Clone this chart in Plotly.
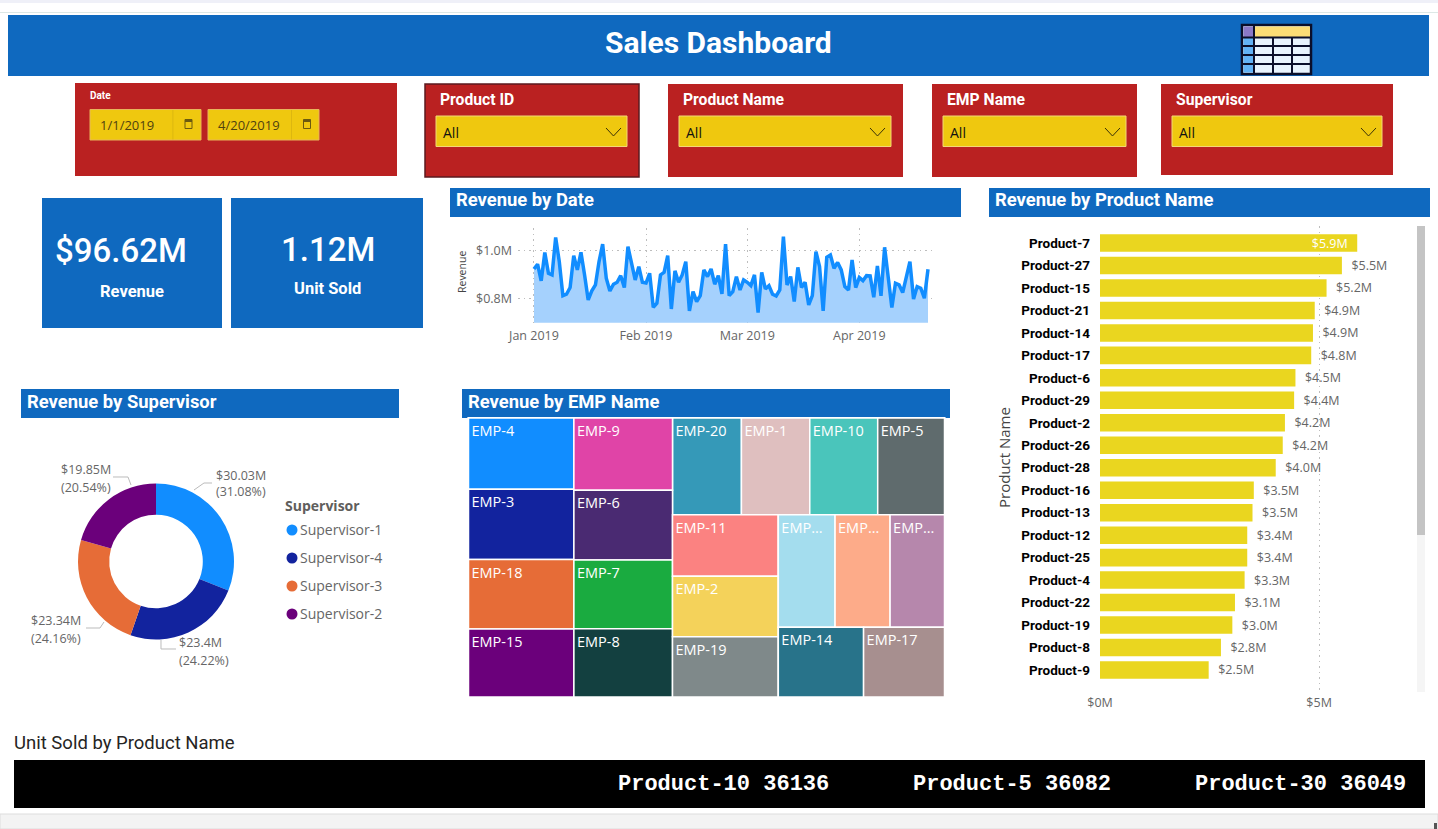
import pandas as pd
import plotly.graph_objects as go

W, H = 1438, 829

# ---- data -------------------------------------------------------------
TOTAL_REVENUE = 96.62
UNITS_SOLD = 1.12

DAILY_REVENUE = [
    0.923, 0.943, 0.873, 0.992, 0.905, 0.898, 1.055, 0.954, 0.811, 0.817,
    0.845, 0.979, 0.919, 0.993, 0.898, 0.793, 0.831, 0.856, 0.954, 1.027,
    0.884, 0.831, 0.859, 0.867, 0.895, 0.845, 1.017, 0.940, 0.877, 0.933,
    0.867, 0.864, 0.905, 0.762, 0.779, 0.898, 0.909, 0.979, 0.755, 0.915,
    0.867, 0.898, 0.954, 0.747, 0.828, 0.786, 0.811, 0.919, 0.891, 0.923,
    0.859, 0.895, 0.818, 1.027, 0.811, 0.828, 0.891, 0.835, 0.877, 0.867,
    0.853, 0.898, 0.740, 0.909, 0.839, 0.853, 0.817, 0.810, 0.835, 1.059,
    0.856, 0.891, 0.786, 0.930, 0.845, 0.867, 0.772, 0.811, 0.996, 0.933,
    0.747, 0.972, 0.982, 0.926, 0.950, 0.919, 0.849, 0.835, 0.961, 0.845,
    0.887, 0.874, 0.895, 0.894, 0.804, 0.936, 0.810, 1.014, 0.898, 0.761,
    0.863, 0.856, 0.824, 0.898, 0.954, 0.797, 0.849, 0.842, 0.800, 0.922,
]
DATES = pd.date_range("2019-01-01", periods=len(DAILY_REVENUE), freq="D")
MONTH_TICKS = ["2019-01-01", "2019-02-01", "2019-03-01", "2019-04-01"]
REVENUE_TICKS = [0.8, 1.0]

PRODUCTS = ["Product-7", "Product-27", "Product-15", "Product-21", "Product-14",
            "Product-17", "Product-6", "Product-29", "Product-2", "Product-26",
            "Product-28", "Product-16", "Product-13", "Product-12", "Product-25",
            "Product-4", "Product-22", "Product-19", "Product-8", "Product-9"]
PRODUCT_REVENUE = [5.87, 5.52, 5.17, 4.90, 4.86, 4.82, 4.46, 4.43, 4.22, 4.17,
                   4.01, 3.51, 3.48, 3.36, 3.36, 3.30, 3.08, 3.02, 2.76, 2.48]
PRODUCT_TICKS = [0, 5]

SUPERVISORS = ["Supervisor-1", "Supervisor-4", "Supervisor-3", "Supervisor-2"]
SUPERVISOR_REVENUE = [30.03, 23.4, 23.34, 19.85]
SUPERVISOR_SHARE = [31.08, 24.22, 24.16, 20.54]
SUPERVISOR_COLORS = ["#118DFF", "#12239E", "#E66C37", "#6B007B"]

# Employee cells are grouped into nested blocks so the tiling alternates
# between rows and columns.
EMP_IDS = ["EMP-4", "EMP-3", "EMP-18", "EMP-15", "EMP-9", "EMP-6", "EMP-7", "EMP-8",
           "EMP-20", "EMP-1", "EMP-10", "EMP-5", "EMP-11", "EMP-2", "EMP-19",
           "EMP-12", "EMP-13", "EMP-16", "EMP-14", "EMP-17"]
EMP_LABELS = ["EMP-4", "EMP-3", "EMP-18", "EMP-15", "EMP-9", "EMP-6", "EMP-7", "EMP-8",
              "EMP-20", "EMP-1", "EMP-10", "EMP-5", "EMP-11", "EMP-2", "EMP-19",
              "EMP...", "EMP...", "EMP...", "EMP-14", "EMP-17"]
EMP_REVENUE = [5.47, 5.38, 5.33, 5.21, 5.19, 5.00, 4.92, 4.90,
               4.85, 4.81, 4.78, 4.70, 4.73, 4.67, 4.63,
               4.64, 4.50, 4.45, 4.33, 4.11]
EMP_BLOCK = ["c1", "c1", "c1", "c1", "c2", "c2", "c2", "c2",
             "top", "top", "top", "top", "mid", "mid", "mid",
             "r1", "r1", "r1", "r2", "r2"]
EMP_COLORS = ["#118DFF", "#12239E", "#E66C37", "#6B007B", "#E044A7", "#4A2A72",
              "#1AAB40", "#134040", "#3599B8", "#DFBFBF", "#4AC5BB", "#5F6B6D",
              "#FB8281", "#F4D25A", "#7F898A", "#A4DDEE", "#FDAB89", "#B687AC",
              "#28738A", "#A78F8F"]
BLOCK_IDS = ["root", "left", "leftcols", "right", "c1", "c2", "top", "bottom", "mid", "rest", "r1", "r2"]
BLOCK_PARENTS = ["", "root", "left", "root", "leftcols", "leftcols", "right", "right", "bottom", "bottom", "rest", "rest"]

TICKER_PRODUCTS = ["Product-10", "Product-5", "Product-30"]
TICKER_UNITS = [36136, 36082, 36049]

FILTER_TITLES = ["Product ID", "Product Name", "EMP Name", "Supervisor"]
FILTER_VALUE = "All"
DATE_RANGE = ["1/1/2019", "4/20/2019"]

# ---- palette ----------------------------------------------------------
BLUE = "#0F69BF"
RED = "#BA2121"
YELLOW = "#EFC80F"
BAR_YELLOW = "#EAD61F"
GREY = "#666666"
GRID = "#BDBDBD"
GRID_DASH = "1.5px,4px"
TITLE_FONT = "Roboto"
BODY_FONT = "Open Sans"
NBSP = "\u00a0"


def px(x):
    return x / W


def py(y):
    return 1 - y / H


shapes, notes = [], []


def rect(x0, y0, x1, y1, fill, line=None, lw=1):
    shapes.append(dict(type="rect", xref="paper", yref="paper",
                       x0=px(x0), x1=px(x1), y0=py(y0), y1=py(y1), fillcolor=fill,
                       line=dict(color=line or fill, width=lw if line else 0),
                       layer="below"))


def polyline(points, color, width=1):
    d = "M" + " L".join(f"{px(x):.5f},{py(y):.5f}" for x, y in points)
    shapes.append(dict(type="path", xref="paper", yref="paper", path=d,
                       line=dict(color=color, width=width), layer="above"))


def label(x, y, text, size=13, color="#FFFFFF", anchor="left", weight=400, family=BODY_FONT, angle=0):
    notes.append(dict(xref="paper", yref="paper", x=px(x), y=py(y), text=text,
                      showarrow=False, xanchor=anchor, yanchor="middle", textangle=angle,
                      borderpad=0, borderwidth=0, align=anchor if anchor != "center" else "center",
                      font=dict(size=size, color=color, family=family, weight=weight)))


def chevron(x0, x1, y0, y1):
    polyline([(x0, y0), ((x0 + x1) / 2, y1), (x1, y0)], "#3A3208", 1)


def calendar(cx, cy):
    rect(cx - 3.5, cy - 4.5, cx + 3.5, cy + 4.5, "rgba(0,0,0,0)", "#6B5A10", 1)
    rect(cx - 3.5, cy - 4.5, cx + 3.5, cy - 2, "#6B5A10")


# ---- page frame -------------------------------------------------------
rect(0, 0, W, 3, "#EFF0F8")
rect(0, 12, W, 13, "#DDE8E6")
rect(8, 15, 1429, 76, BLUE)
label(718, 42, "Sales Dashboard", size=30, anchor="center", weight=700, family=TITLE_FONT)

# table icon in the banner
rect(1242, 25, 1311, 74, "#E8F3FD", "#0B0F2A", 2.5)
rect(1243.5, 26.5, 1254, 37, "#8A78C8")
rect(1255, 26.5, 1310, 37, "#FCDD75")
rect(1243.5, 38, 1253.5, 72.5, "#62B2F5")
for gy in (37.5, 46, 55, 64):
    polyline([(1242, gy), (1311, gy)], "#0B0F2A", 2)
for gx in (1254, 1273, 1292):
    polyline([(gx, 25 if gx == 1254 else 37), (gx, 74)], "#0B0F2A", 2)

# ---- filters ----------------------------------------------------------
rect(75, 83, 397, 176, RED)
label(90, 96, "Date", size=10, weight=700, family=TITLE_FONT)
for (x0, x1, divider, day) in zip((90, 208), (201, 319), (172.5, 291), DATE_RANGE):
    rect(x0, 109.5, x1, 140, YELLOW, "#E8B55A", 1)
    rect(divider, 110, divider + 0.8, 139.5, "#D8B310")
    label(x0 + 10, 125.5, day, size=13, color="#4F4210")
    calendar(divider + 16, 124)

FILTER_BOXES = [(425, 639, 177, 436, 627), (668, 903, 177, 679, 891),
                (932, 1137, 177, 943, 1126), (1161, 1393, 175, 1172, 1382)]
for i, (title, (x0, x1, bottom, dx0, dx1)) in enumerate(zip(FILTER_TITLES, FILTER_BOXES)):
    rect(x0, 84, x1, bottom, RED, "#5B1A1F" if i == 0 else None, 1.5)
    label(x0 + 15, 100, title, size=15.7, weight=700, family=TITLE_FONT)
    rect(dx0, 116, dx1, 146.5, YELLOW, "#F3D878", 1)
    label(dx0 + 7, 133, FILTER_VALUE, size=14, color="#111111")
    chevron(dx1 - 21, dx1 - 6, 128, 136)

# ---- KPI tiles --------------------------------------------------------
rect(42, 198, 222, 328, BLUE)
rect(231, 198, 423, 328, BLUE)
label(121, 251, f"${TOTAL_REVENUE}M", size=33, anchor="center", family=TITLE_FONT, weight=500)
label(132, 291, "Revenue", size=16.5, anchor="center", weight=700, family=TITLE_FONT)
label(328, 250, f"{UNITS_SOLD}M", size=33, anchor="center", family=TITLE_FONT, weight=500)
label(327, 288, "Unit Sold", size=16.5, anchor="center", weight=700, family=TITLE_FONT)

# ---- section headers --------------------------------------------------
for x0, x1, y0, y1, title in [(450, 961, 188, 217, "Revenue by Date"),
                              (989, 1430, 188, 217, "Revenue by Product Name"),
                              (21, 399, 389, 418, "Revenue by Supervisor"),
                              (462, 950, 389, 418, "Revenue by EMP Name")]:
    rect(x0, y0, x1, y1, BLUE)
    label(x0 + 6, y0 + 12, title, size=18.4, weight=700, family=TITLE_FONT)

# ---- donut annotations and legend -------------------------------------
LABEL_SPOTS = [(216, 475, 491), (179, 642, 660), (31, 620, 638), (61, 469, 487)]
LEADERS = [[(194, 490), (204, 483), (212, 483)],
           [(161, 640), (161, 649), (176, 649)],
           [(104, 622), (100, 628), (86, 628)],
           [(131, 485), (128, 477), (113, 477)]]
for value, share, (lx, ly1, ly2), leader in zip(SUPERVISOR_REVENUE, SUPERVISOR_SHARE, LABEL_SPOTS, LEADERS):
    label(lx, ly1, f"${value}M", size=12.5, color=GREY)
    label(lx, ly2, f"({share:.2f}%)", size=12.5, color=GREY)
    polyline(leader, "#BBBBBB", 1)

label(285, 506, "Supervisor", size=14, color="#605E5C", weight=700)
for i, (name, color) in enumerate(zip(SUPERVISORS, SUPERVISOR_COLORS)):
    yc = 530 + 28 * i
    shapes.append(dict(type="circle", xref="paper", yref="paper", fillcolor=color,
                       x0=px(286.5), x1=px(297.5), y0=py(yc - 5.5), y1=py(yc + 5.5),
                       line=dict(width=0), layer="above"))
    label(300, yc - 1, name, size=14, color=GREY)

# ---- other axis captions ----------------------------------------------
label(462, 272, "Revenue", size=10.5, color="#444444", anchor="center", angle=-90)
label(1004, 457, "Product Name", size=15, color="#444444", anchor="center", angle=-90)

# ---- scrollbar beside the bars, ticker and footer ---------------------
rect(1417, 226, 1425, 692, "#F5F5F5")
rect(1417, 226, 1425, 535, "#C4C4C4")
label(14, 743, "Unit Sold by Product Name", size=18.5, color="#252423", family=TITLE_FONT)
rect(14, 760, 1425, 808, "#000000")
for x, name, units in zip((618, 913, 1195), TICKER_PRODUCTS, TICKER_UNITS):
    label(x, 784, f"{name} {units}", size=22, family="Liberation Mono", weight=700)
rect(0, 814, W, 829, "#F3F3F3", "#DDDDDD", 1)
rect(1434, 823, 1437, 829, "#555555")

# ---- traces -----------------------------------------------------------
fig = go.Figure()

fig.add_trace(go.Scatter(
    x=DATES, y=DAILY_REVENUE, mode="lines", fill="tozeroy",
    fillcolor="#A5D1FD", line=dict(color="#118DFF", width=3.5),
    xaxis="x", yaxis="y", showlegend=False))

fig.add_trace(go.Bar(
    x=PRODUCT_REVENUE, y=PRODUCTS, orientation="h",
    marker=dict(color=BAR_YELLOW, line=dict(width=0)),
    texttemplate=[f"$%{{x:.1f}}M{NBSP * 2}"] + [f"{NBSP * 2}$%{{x:.1f}}M"] * (len(PRODUCTS) - 1),
    textposition=["inside"] + ["outside"] * (len(PRODUCTS) - 1),
    insidetextanchor="end", constraintext="none", cliponaxis=False,
    textfont=dict(size=12.5, family=BODY_FONT,
                  color=["#FFFFFF"] + [GREY] * (len(PRODUCTS) - 1)),
    xaxis="x2", yaxis="y2", showlegend=False))

fig.add_trace(go.Pie(
    labels=SUPERVISORS, values=SUPERVISOR_REVENUE, hole=0.6, sort=False,
    direction="clockwise", rotation=0, textinfo="none", showlegend=False,
    marker=dict(colors=SUPERVISOR_COLORS, line=dict(width=0)),
    domain=dict(x=[px(78), px(234)], y=[py(639.5), py(483.5)])))

fig.add_trace(go.Treemap(
    ids=BLOCK_IDS + EMP_IDS,
    labels=[""] * len(BLOCK_IDS) + EMP_LABELS,
    parents=BLOCK_PARENTS + EMP_BLOCK,
    values=[0] * len(BLOCK_IDS) + EMP_REVENUE,
    branchvalues="remainder", sort=False, textinfo="label",
    textposition="top left",
    textfont=dict(size=14.5, color="#FFFFFF", family=BODY_FONT),
    marker=dict(colors=["#FFFFFF"] * len(BLOCK_IDS) + EMP_COLORS,
                line=dict(color="#FFFFFF", width=1.5), depthfade=False,
                pad=dict(t=0, l=0, r=0, b=0)),
    tiling=dict(packing="slice-dice", pad=0),
    pathbar=dict(visible=False), root=dict(color="#FFFFFF"),
    domain=dict(x=[px(468.5), px(944.5)], y=[py(697), py(418)])))

fig.update_layout(
    width=W, height=H, margin=dict(l=0, r=0, t=0, b=0, pad=0, autoexpand=False),
    autosize=False, paper_bgcolor="#FFFFFF", plot_bgcolor="rgba(0,0,0,0)",
    font=dict(family=BODY_FONT, color=GREY), bargap=0.22,
    shapes=shapes, annotations=notes,
    xaxis=dict(domain=[px(518), px(935)], anchor="y",
               range=["2018-12-27 14:00", "2019-04-21 22:30"],
               tickvals=MONTH_TICKS, tickformat="%b %Y", ticks="", ticklabelstandoff=4,
               tickfont=dict(size=12.5, color=GREY), showline=False, zeroline=False,
               showgrid=True, griddash=GRID_DASH, gridcolor=GRID, gridwidth=1),
    yaxis=dict(domain=[py(322.7), py(228)], anchor="x", range=[0.6975, 1.095],
               tickvals=REVENUE_TICKS, ticktext=[f"${v:.1f}M" for v in REVENUE_TICKS],
               ticks="", ticklabelstandoff=5, tickfont=dict(size=12.5, color=GREY), showline=False,
               zeroline=False, showgrid=True, griddash=GRID_DASH, gridcolor=GRID),
    xaxis2=dict(domain=[px(1100), px(1405)], anchor="y2", range=[0, 6.96],
                tickvals=PRODUCT_TICKS, ticktext=[f"${v}M" for v in PRODUCT_TICKS],
                ticks="", ticklabelstandoff=3,
                tickfont=dict(size=12.5, color=GREY), showline=False, zeroline=False,
                showgrid=True, griddash=GRID_DASH, gridcolor=GRID),
    yaxis2=dict(domain=[py(690), py(226)], anchor="x2", range=[19.89, -0.757],
                type="category", categoryorder="array", categoryarray=PRODUCTS,
                ticks="", ticklabelstandoff=9, showline=False, zeroline=False, showgrid=False,
                tickfont=dict(size=13.5, color="#000000", family=TITLE_FONT, weight=700)),
)

fig.write_html("out.html")
